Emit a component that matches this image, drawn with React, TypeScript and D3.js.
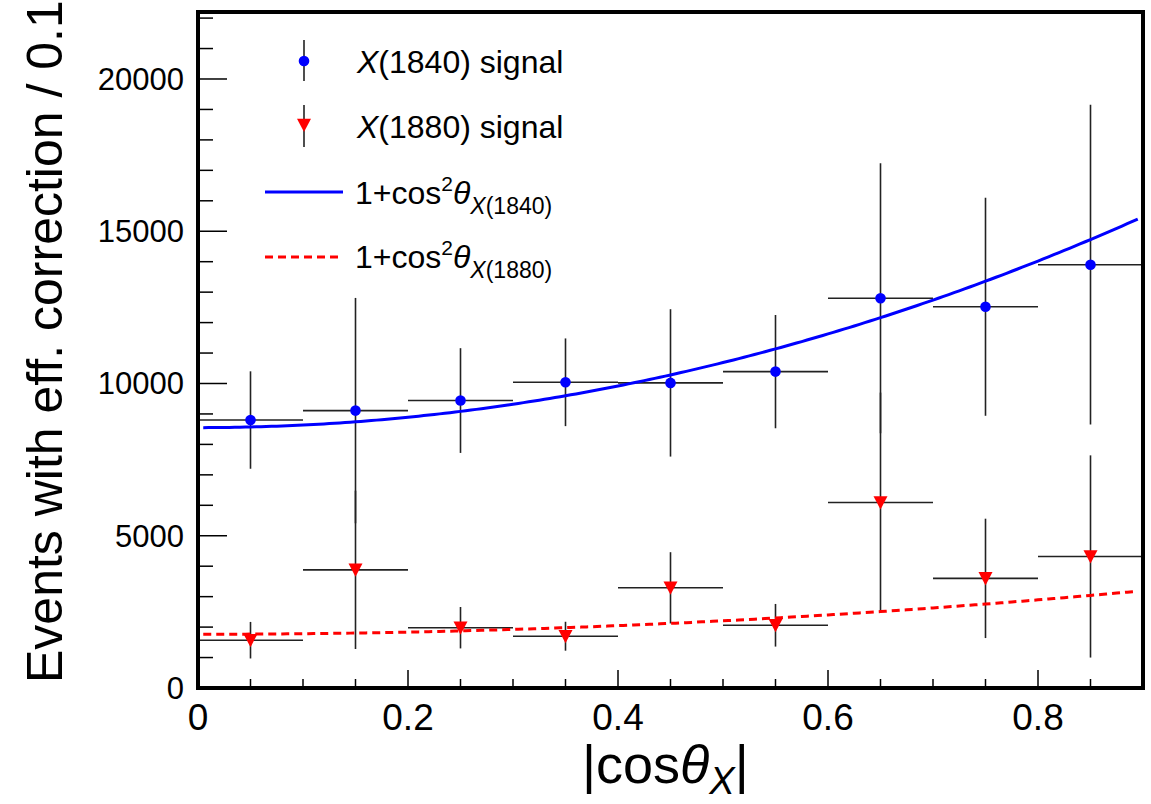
import React from "react";
import * as d3 from "d3";

// Bin centres of |cos(theta_X)| (bin width 0.1)
const binCenters = [0.05, 0.15, 0.25, 0.35, 0.45, 0.55, 0.65, 0.75, 0.85];
const binHalfWidth = 0.05;

// Efficiency-corrected yields per bin
const signal1840 = [8800, 9110, 9440, 10040, 10020, 10390, 12800, 12520, 13900];
const error1840 = [1600, 3700, 1720, 1440, 2420, 1860, 4430, 3580, 5250];
const signal1880 = [1570, 3880, 1980, 1700, 3290, 2060, 6090, 3600, 4320];
const error1880 = [600, 2600, 680, 475, 1170, 700, 3610, 1960, 3320];

// Normalisations of the 1+cos^2 fits
const fitNorm1840 = 8550;
const fitNorm1880 = 1765;

const yTicksMajor = [0, 5000, 10000, 15000, 20000];
const xTicksMajor = [0, 0.2, 0.4, 0.6, 0.8];

const W = 1151;
const H = 804;
const frame = { left: 198, right: 1143, top: 12, bottom: 688 };

const FONT = "'Liberation Sans', Arial, Helvetica, sans-serif";
const BLUE = "#0000ff";
const RED = "#ff0000";
const BAR = "#222";

export default function App() {
  const x = d3.scaleLinear().domain([0, 0.9]).range([frame.left, frame.right]);
  const y = d3.scaleLinear().domain([0, 22200]).range([frame.bottom, frame.top]);

  const yMinor = d3.range(0, 22001, 1000).filter((v) => v % 5000 !== 0);
  const xMinor = d3.range(0.05, 0.9, 0.05).filter((v) => Math.abs(v / 0.2 - Math.round(v / 0.2)) > 1e-6);

  const fitGrid = d3.range(0.005, 0.8951, 0.005);
  const fitLine = (norm: number) =>
    d3
      .line<number>()
      .x((v) => x(v))
      .y((v) => y(norm * (1 + v * v)))(fitGrid) as string;

  // downward-pointing triangle marker
  const tri = (cx: number, cy: number, s: number) =>
    `M${cx - s / 2},${cy - s * 0.45} L${cx + s / 2},${cy - s * 0.45} L${cx},${cy + s * 0.5} Z`;

  const errorBars = (vals: number[], errs: number[], keyPrefix: string) =>
    binCenters.map((c, i) => (
      <g key={keyPrefix + i} stroke={BAR} strokeWidth={1.6}>
        <line x1={x(c - binHalfWidth)} x2={x(c + binHalfWidth)} y1={y(vals[i])} y2={y(vals[i])} />
        <line x1={x(c)} x2={x(c)} y1={y(vals[i] - errs[i])} y2={y(vals[i] + errs[i])} />
      </g>
    ));

  const formula = (xPos: number, yPos: number, label: string) => (
    <text x={xPos} y={yPos} fontSize={32} fill="#000">
      1+cos<tspan fontSize={21} dy={-13}>2</tspan>
      <tspan fontStyle="italic" dy={13}>θ</tspan>
      <tspan fontSize={23} dy={10}>
        <tspan fontStyle="italic">X</tspan>({label})
      </tspan>
    </text>
  );

  return (
    <div style={{ position: "absolute", left: 0, top: 0 }}>
      <svg width={W} height={H} style={{ display: "block", background: "#fff" }} fontFamily={FONT}>
        <rect x={0} y={0} width={W} height={H} fill="#fff" />

        <defs>
          <clipPath id="plotClip">
            <rect x={frame.left} y={frame.top} width={frame.right - frame.left} height={frame.bottom - frame.top} />
          </clipPath>
        </defs>

        {/* error bars */}
        {errorBars(signal1840, error1840, "b")}
        {errorBars(signal1880, error1880, "r")}

        {/* fitted curves */}
        <g clipPath="url(#plotClip)">
          <path d={fitLine(fitNorm1840)} fill="none" stroke={BLUE} strokeWidth={3} />
          <path d={fitLine(fitNorm1880)} fill="none" stroke={RED} strokeWidth={3} strokeDasharray="8,5" />
        </g>

        {/* markers */}
        {binCenters.map((c, i) => (
          <circle key={"bm" + i} cx={x(c)} cy={y(signal1840[i])} r={5.3} fill={BLUE} />
        ))}
        {binCenters.map((c, i) => (
          <path key={"rm" + i} d={tri(x(c), y(signal1880[i]), 14)} fill={RED} />
        ))}

        {/* y axis ticks */}
        {yTicksMajor.map((v) => (
          <line key={"yM" + v} x1={frame.left} x2={frame.left + 29} y1={y(v)} y2={y(v)} stroke="#000" strokeWidth={1.5} />
        ))}
        {yMinor.map((v) => (
          <line key={"ym" + v} x1={frame.left} x2={frame.left + 15} y1={y(v)} y2={y(v)} stroke="#000" strokeWidth={1.5} />
        ))}
        {yTicksMajor.map((v) => (
          <text key={"yl" + v} x={184} y={y(v) + 11} textAnchor="end" fontSize={31} fill="#000">
            {v}
          </text>
        ))}

        {/* x axis ticks */}
        {xTicksMajor.map((v) => (
          <line key={"xM" + v} x1={x(v)} x2={x(v)} y1={frame.bottom} y2={frame.bottom - 18} stroke="#000" strokeWidth={1.5} />
        ))}
        {xMinor.map((v) => (
          <line key={"xm" + v} x1={x(v)} x2={x(v)} y1={frame.bottom} y2={frame.bottom - 9} stroke="#000" strokeWidth={1.5} />
        ))}
        {xTicksMajor.map((v) => (
          <text key={"xl" + v} x={x(v)} y={730} textAnchor="middle" fontSize={37} fill="#000">
            {v === 0 ? "0" : v.toFixed(1)}
          </text>
        ))}

        {/* frame */}
        <rect
          x={frame.left}
          y={frame.top}
          width={frame.right - frame.left}
          height={frame.bottom - frame.top}
          fill="none"
          stroke="#000"
          strokeWidth={4}
        />

        {/* axis titles */}
        <text x={582} y={783} fontSize={54} fill="#000">
          |cos<tspan fontStyle="italic">θ</tspan>
          <tspan fontStyle="italic" fontSize={38} dy={11}>X</tspan>
          <tspan dy={-11}>|</tspan>
        </text>
        <text transform="translate(62,683) rotate(-90)" fontSize={50} fill="#000">
          Events with eff. correction / 0.1
        </text>

        {/* legend */}
        <g>
          <line x1={304} x2={304} y1={40} y2={81} stroke={BAR} strokeWidth={1.6} />
          <circle cx={304} cy={61} r={5.3} fill={BLUE} />
          <text x={357} y={73} fontSize={32} fill="#000">
            <tspan fontStyle="italic">X</tspan>(1840) signal
          </text>

          <line x1={304} x2={304} y1={105} y2={147} stroke={BAR} strokeWidth={1.6} />
          <path d={tri(304, 125, 14)} fill={RED} />
          <text x={357} y={138} fontSize={32} fill="#000">
            <tspan fontStyle="italic">X</tspan>(1880) signal
          </text>

          <line x1={265} x2={343} y1={192} y2={192} stroke={BLUE} strokeWidth={3} />
          {formula(355, 204, "1840")}

          <line x1={265} x2={343} y1={257} y2={257} stroke={RED} strokeWidth={3} strokeDasharray="8,5" />
          {formula(355, 268, "1880")}
        </g>
      </svg>
    </div>
  );
}
